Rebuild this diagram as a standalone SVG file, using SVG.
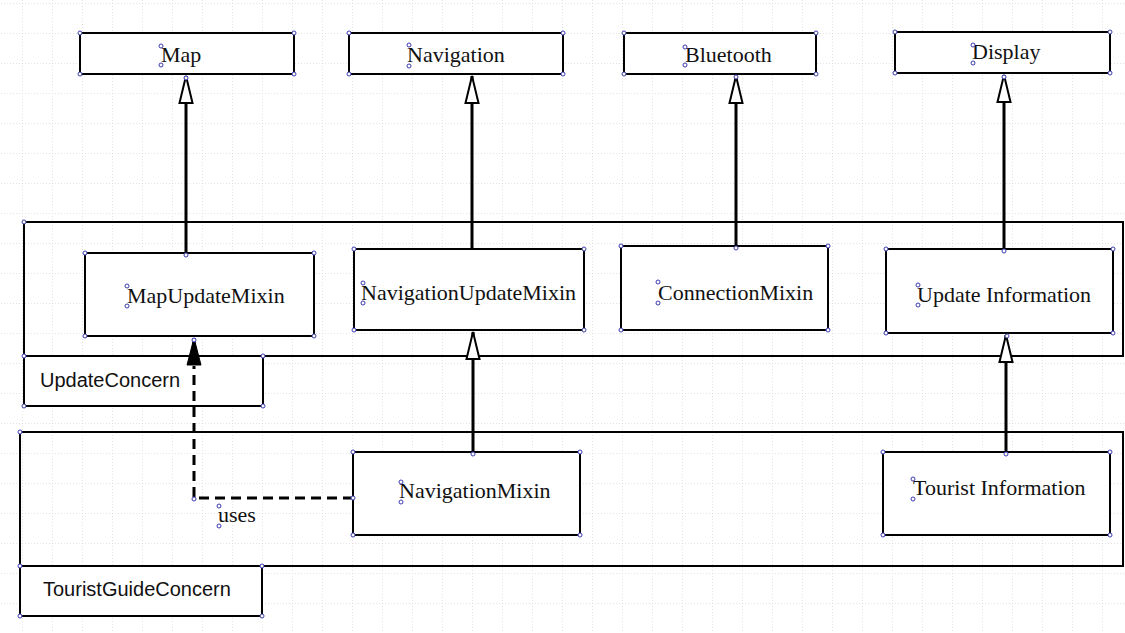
<svg xmlns="http://www.w3.org/2000/svg" width="1125" height="633" viewBox="0 0 1125 633">
<style>
.box{fill:#fff;stroke:#000;stroke-width:2}
.pkg{fill:none;stroke:#000;stroke-width:2}
.tab{fill:#fff;stroke:#000;stroke-width:2}
.t{font-family:"Liberation Serif","Times New Roman",serif;font-size:22px;fill:#111}
.s{font-family:"Liberation Sans",Arial,sans-serif;font-size:20px;fill:#111}
.gen{stroke:#000;stroke-width:3;fill:none;marker-end:url(#hollow)}
.dep{stroke:#000;stroke-width:3;fill:none;stroke-dasharray:10,6}
.h{fill:#fff;stroke:#3a3ab0;stroke-width:1}
</style>
<defs>
<pattern id="grid" x="22" y="3" width="30" height="30" patternUnits="userSpaceOnUse">
<path d="M0,0 V30 M0,0 H30" stroke="#c8c8c8" stroke-width="1" stroke-dasharray="1,2" fill="none"/>
</pattern>
<marker id="hollow" markerUnits="userSpaceOnUse" markerWidth="30" markerHeight="16" viewBox="0 0 30 16" refX="28" refY="8" orient="auto">
<path d="M1,1.5 L28,8 L1,14.5 Z" fill="#fff" stroke="#000" stroke-width="2"/>
</marker>
<marker id="filled" markerUnits="userSpaceOnUse" markerWidth="30" markerHeight="16" viewBox="0 0 30 16" refX="28" refY="8" orient="auto">
<path d="M1,1 L28,8 L1,15 Z" fill="#000" stroke="#000" stroke-width="1"/>
</marker>
</defs>
<rect width="1125" height="633" fill="#fff"/>
<rect width="1125" height="633" fill="url(#grid)"/>

<g id="UpdateConcern">
<rect class="pkg" x="24" y="222" width="1099" height="134"/>
<rect class="tab" x="24" y="356" width="239" height="50"/>
<text class="s" x="40" y="387">UpdateConcern</text>
</g>
<g id="TouristGuideConcern">
<rect class="pkg" x="20" y="432" width="1103" height="134"/>
<rect class="tab" x="20" y="566" width="242" height="50"/>
<text class="s" x="43" y="596">TouristGuideConcern</text>
</g>

<g id="Map"><rect class="box" x="80" y="33" width="214" height="41"/><text class="t" x="161" y="62">Map</text></g>
<g id="Navigation"><rect class="box" x="349" y="33" width="214" height="41"/><text class="t" x="407" y="62">Navigation</text></g>
<g id="Bluetooth"><rect class="box" x="624" y="33" width="192" height="41"/><text class="t" x="685" y="62">Bluetooth</text></g>
<g id="Display"><rect class="box" x="895" y="32" width="215" height="41"/><text class="t" x="972" y="59">Display</text></g>

<g id="MapUpdateMixin"><rect class="box" x="85" y="253" width="229" height="83"/><text class="t" x="127" y="303">MapUpdateMixin</text></g>
<g id="NavigationUpdateMixin"><rect class="box" x="354" y="249" width="230" height="81"/><text class="t" x="361" y="300">NavigationUpdateMixin</text></g>
<g id="ConnectionMixin"><rect class="box" x="621" y="246" width="207" height="84"/><text class="t" x="658" y="300">ConnectionMixin</text></g>
<g id="UpdateInformation"><rect class="box" x="886" y="249" width="227" height="84"/><text class="t" x="917" y="302">Update Information</text></g>

<g id="NavigationMixin"><rect class="box" x="353" y="452" width="227" height="83"/><text class="t" x="399" y="498">NavigationMixin</text></g>
<g id="TouristInformation"><rect class="box" x="883" y="452" width="227" height="83"/><text class="t" x="913" y="495">Tourist Information</text></g>

<g id="connectors">
<line class="gen" x1="186" y1="253" x2="186" y2="76"/>
<line class="gen" x1="472" y1="249" x2="472" y2="76"/>
<line class="gen" x1="736" y1="246" x2="736" y2="76"/>
<line class="gen" x1="1004" y1="249" x2="1004" y2="75"/>
<line class="gen" x1="473" y1="452" x2="473" y2="332"/>
<line class="gen" x1="1006" y1="452" x2="1006" y2="335"/>
<path class="dep" d="M353,498 H194 V366"/>
<path d="M194,364 L194,338" stroke="#000" stroke-width="3" marker-end="url(#filled)"/>
<text class="t" x="218" y="522">uses</text>
</g>

<g id="handles">
<circle class="h" cx="80" cy="33" r="2"/><circle class="h" cx="294" cy="33" r="2"/><circle class="h" cx="80" cy="74" r="2"/><circle class="h" cx="294" cy="74" r="2"/>
<circle class="h" cx="349" cy="33" r="2"/><circle class="h" cx="563" cy="33" r="2"/><circle class="h" cx="349" cy="74" r="2"/><circle class="h" cx="563" cy="74" r="2"/>
<circle class="h" cx="624" cy="33" r="2"/><circle class="h" cx="816" cy="33" r="2"/><circle class="h" cx="624" cy="74" r="2"/><circle class="h" cx="816" cy="74" r="2"/>
<circle class="h" cx="895" cy="32" r="2"/><circle class="h" cx="1110" cy="32" r="2"/><circle class="h" cx="895" cy="73" r="2"/><circle class="h" cx="1110" cy="73" r="2"/>
<circle class="h" cx="85" cy="253" r="2"/><circle class="h" cx="314" cy="253" r="2"/><circle class="h" cx="85" cy="336" r="2"/><circle class="h" cx="314" cy="336" r="2"/>
<circle class="h" cx="354" cy="249" r="2"/><circle class="h" cx="584" cy="249" r="2"/><circle class="h" cx="354" cy="330" r="2"/><circle class="h" cx="584" cy="330" r="2"/>
<circle class="h" cx="621" cy="246" r="2"/><circle class="h" cx="828" cy="246" r="2"/><circle class="h" cx="621" cy="330" r="2"/><circle class="h" cx="828" cy="330" r="2"/>
<circle class="h" cx="886" cy="249" r="2"/><circle class="h" cx="1113" cy="249" r="2"/><circle class="h" cx="886" cy="333" r="2"/><circle class="h" cx="1113" cy="333" r="2"/>
<circle class="h" cx="353" cy="452" r="2"/><circle class="h" cx="580" cy="452" r="2"/><circle class="h" cx="353" cy="535" r="2"/><circle class="h" cx="580" cy="535" r="2"/>
<circle class="h" cx="883" cy="452" r="2"/><circle class="h" cx="1110" cy="452" r="2"/><circle class="h" cx="883" cy="535" r="2"/><circle class="h" cx="1110" cy="535" r="2"/>
<circle class="h" cx="24" cy="222" r="2"/><circle class="h" cx="24" cy="356" r="2"/><circle class="h" cx="263" cy="356" r="2"/><circle class="h" cx="24" cy="406" r="2"/><circle class="h" cx="263" cy="406" r="2"/>
<circle class="h" cx="20" cy="432" r="2"/><circle class="h" cx="20" cy="566" r="2"/><circle class="h" cx="262" cy="566" r="2"/><circle class="h" cx="20" cy="616" r="2"/><circle class="h" cx="262" cy="616" r="2"/>
<circle class="h" cx="186" cy="78" r="2"/><circle class="h" cx="186" cy="255" r="2"/>
<circle class="h" cx="736" cy="77" r="2"/><circle class="h" cx="736" cy="248" r="2"/>
<circle class="h" cx="1004" cy="77" r="2"/><circle class="h" cx="1004" cy="251" r="2"/>
<circle class="h" cx="473" cy="454" r="2"/><circle class="h" cx="1006" cy="454" r="2"/><circle class="h" cx="1007" cy="336" r="2"/>
<circle class="h" cx="194" cy="340" r="2"/><circle class="h" cx="194" cy="499" r="2"/><circle class="h" cx="353" cy="498" r="2"/>
<circle class="h" cx="161" cy="46" r="2"/><circle class="h" cx="161" cy="65" r="2"/>
<circle class="h" cx="409" cy="45" r="2"/><circle class="h" cx="409" cy="66" r="2"/>
<circle class="h" cx="685" cy="47" r="2"/><circle class="h" cx="685" cy="65" r="2"/>
<circle class="h" cx="973" cy="45" r="2"/><circle class="h" cx="973" cy="63" r="2"/>
<circle class="h" cx="127" cy="286" r="2"/><circle class="h" cx="127" cy="306" r="2"/>
<circle class="h" cx="363" cy="283" r="2"/><circle class="h" cx="363" cy="303" r="2"/>
<circle class="h" cx="658" cy="282" r="2"/><circle class="h" cx="658" cy="303" r="2"/>
<circle class="h" cx="918" cy="285" r="2"/><circle class="h" cx="918" cy="305" r="2"/>
<circle class="h" cx="401" cy="482" r="2"/><circle class="h" cx="401" cy="502" r="2"/>
<circle class="h" cx="913" cy="479" r="2"/><circle class="h" cx="913" cy="499" r="2"/>
<circle class="h" cx="219" cy="506" r="2"/><circle class="h" cx="219" cy="526" r="2"/>
</g>
</svg>
